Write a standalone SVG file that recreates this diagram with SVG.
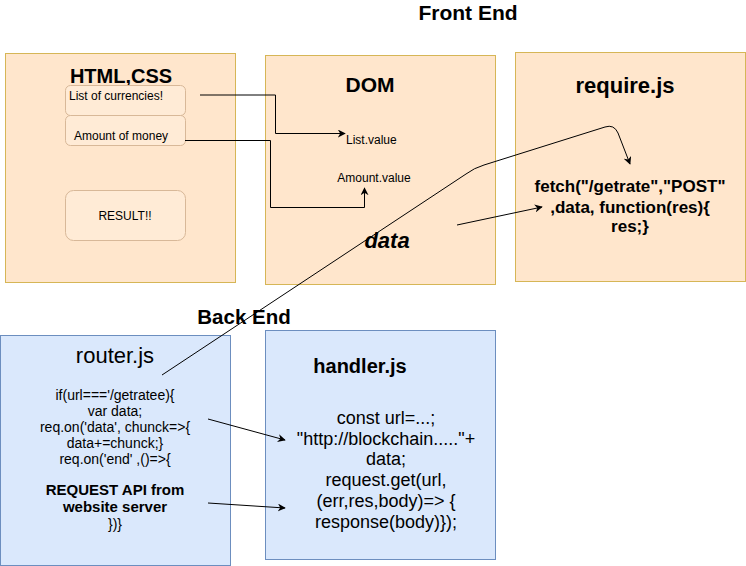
<svg xmlns="http://www.w3.org/2000/svg" width="746" height="566" viewBox="0 0 746 566">
<defs>
<style>
text{font-family:"Liberation Sans",Arial,sans-serif;fill:#000}
.fe{fill:#ffe6cc;stroke:#d6b656;stroke-width:1}
.be{fill:#dae8fc;stroke:#6c8ebf;stroke-width:1}
.in{fill:#ffebd6;stroke:#d8b898;stroke-width:1}
.c{fill:none;stroke:#000;stroke-width:1}
.t{font-weight:bold;text-anchor:middle}
.m{text-anchor:middle}
</style>
<marker id="a" viewBox="0 0 10 10" refX="9" refY="5" markerWidth="8" markerHeight="8" orient="auto" markerUnits="userSpaceOnUse">
<path d="M0,0 L10,5 L0,10 L3,5 Z" fill="#000"/>
</marker>
</defs>
<rect width="746" height="566" fill="#fff"/>
<text x="468" y="20" class="t" font-size="21">Front End</text>
<text x="244" y="324" class="t" font-size="20.5">Back End</text>
<g id="html">
<rect class="fe" x="5.5" y="53.5" width="230" height="229"/>
<text x="121" y="83" class="t" font-size="20">HTML,CSS</text>
<rect class="in" x="65.5" y="85.5" width="120" height="30" rx="5"/>
<text x="69" y="100" font-size="12">List of currencies!</text>
<rect class="in" x="65.5" y="115.5" width="120" height="30" rx="5"/>
<text x="74" y="140" font-size="12">Amount of money</text>
<rect class="in" x="65.5" y="190.5" width="120" height="50" rx="8"/>
<text x="125" y="220" class="m" font-size="12">RESULT!!</text>
</g>
<g id="dom">
<rect class="fe" x="265.5" y="55.5" width="230" height="229"/>
<text x="370" y="92" class="t" font-size="21">DOM</text>
<text x="346" y="144" font-size="12">List.value</text>
<text x="374" y="182" class="m" font-size="12">Amount.value</text>
<text x="387" y="248" class="t" font-size="22" font-style="italic">data</text>
</g>
<g id="require">
<rect class="fe" x="515.5" y="52.5" width="230" height="229"/>
<text x="625" y="93" class="t" font-size="22">require.js</text>
<text x="630" y="192" class="t" font-size="17">fetch("/getrate","POST"</text>
<text x="630" y="213" class="t" font-size="17">,data, function(res){</text>
<text x="630" y="232" class="t" font-size="17">res;}</text>
</g>
<g id="router">
<rect class="be" x="0.5" y="335.5" width="230" height="230"/>
<text x="115" y="363" class="m" font-size="22">router.js</text>
<text x="115" y="400" class="m" font-size="14">if(url==='/getratee){</text>
<text x="115" y="416" class="m" font-size="14">var data;</text>
<text x="115" y="432" class="m" font-size="14">req.on('data', chunck=&gt;{</text>
<text x="115" y="448" class="m" font-size="14">data+=chunck;}</text>
<text x="115" y="464" class="m" font-size="14">req.on('end' ,()=&gt;{</text>
<text x="115" y="495" class="t" font-size="15">REQUEST API from</text>
<text x="115" y="512" class="t" font-size="15">website server</text>
<text x="115" y="529" class="m" font-size="14">})}</text>
</g>
<g id="handler">
<rect class="be" x="265.5" y="330.5" width="230" height="229"/>
<text x="360" y="373" class="t" font-size="20">handler.js</text>
<text x="386" y="424" class="m" font-size="18">const url=...;</text>
<text x="386" y="445" class="m" font-size="18">"http://blockchain....."+</text>
<text x="386" y="465" class="m" font-size="18">data;</text>
<text x="386" y="486" class="m" font-size="18">request.get(url,</text>
<text x="386" y="507" class="m" font-size="18">(err,res,body)=&gt; {</text>
<text x="386" y="528" class="m" font-size="18">response(body)});</text>
</g>
<g id="connectors">
<path class="c" d="M200,95 H275.5 V133.5 H345" marker-end="url(#a)"/>
<path class="c" d="M185,140.5 H270.5 V207.5 H364.5 V188" marker-end="url(#a)"/>
<path class="c" d="M162,375 L466,174 Q474,168 484,165 L605,127 Q614,124 618,133 L630,164" marker-end="url(#a)"/>
<path class="c" d="M457,225 L542,207" marker-end="url(#a)"/>
<path class="c" d="M208,419 L285,440" marker-end="url(#a)"/>
<path class="c" d="M208,503 L285,508" marker-end="url(#a)"/>
</g>
</svg>
